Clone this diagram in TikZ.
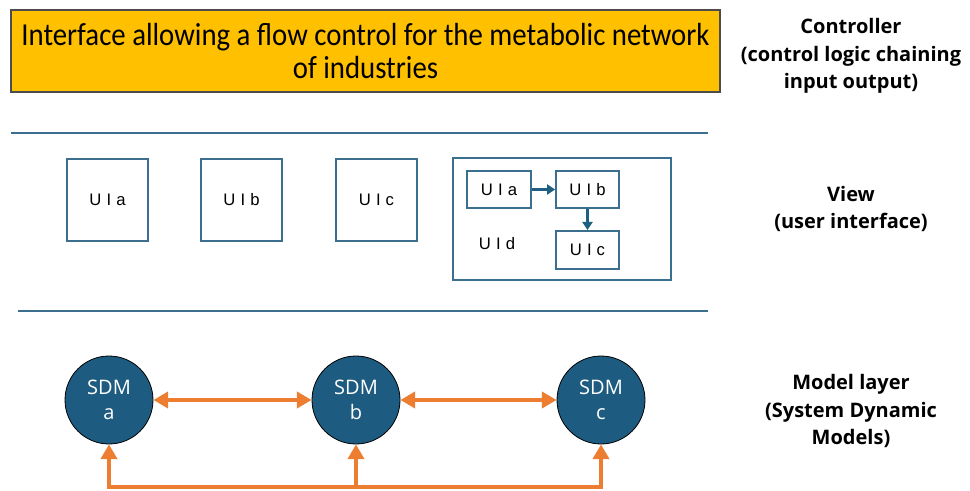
\documentclass[tikz,border=0pt]{standalone}
\usepackage{fontspec}
\setmainfont{Carlito}
\newfontfamily\topf[FakeStretch=0.9]{Carlito}
\newfontfamily\lab{Open Sans}
\newfontfamily\uif{Liberation Sans}
\newfontfamily\sdmf{Open Sans}
\usetikzlibrary{arrows.meta}
\definecolor{gold}{HTML}{FFC000}
\definecolor{uiblue}{HTML}{3B6E8F}
\definecolor{sdmblue}{HTML}{1D5C80}
\definecolor{orng}{HTML}{ED7D31}
\definecolor{arrblue}{HTML}{1F5F82}
\newcommand{\lsp}{\hspace{3.8pt}}
\tikzset{
  uibox/.style={draw=uiblue, line width=1.5pt, inner sep=0pt},
  uitext/.style={font=\uif\fontsize{12.5}{14}\selectfont},
  sdm/.style={circle, draw=black, line width=0.6pt, fill=sdmblue, text=white, minimum width=66pt, inner sep=0pt, align=center, font=\sdmf\fontsize{15}{18.5}\selectfont},
  sidelabel/.style={align=center, font=\lab\bfseries\fontsize{15}{20.6}\selectfont},
  orarrow/.style={draw=orng, line width=3.6pt, -{Triangle[length=11pt,width=12pt]}},
  orboth/.style={draw=orng, line width=3.6pt, {Triangle[length=11pt,width=12pt]}-{Triangle[length=11pt,width=12pt]}},
  blarrow/.style={draw=arrblue, line width=2.2pt, -{Triangle[length=6pt,width=7.5pt]}},
  sepline/.style={draw=uiblue, line width=1.2pt}
}
\begin{document}
\begin{tikzpicture}[x=0.75pt,y=-0.75pt]
\useasboundingbox (0,0) rectangle (970,491);
% controller
\node[draw=black!70, line width=0.8pt, fill=gold, minimum width=531.75pt, minimum height=61.5pt, inner sep=0pt, align=center, font=\topf\fontsize{24}{24.75}\selectfont] (ctrl) at (365.5,51) {Interface allowing a flow control for the metabolic network\\of industries};
\node[sidelabel] (ctrllab) at (851,56) {Controller\\(control logic chaining\\input output)};
% separators
\coordinate (l1a) at (11,133); \coordinate (l1b) at (708,133);
\coordinate (l2a) at (18,311); \coordinate (l2b) at (708,311);
\draw[sepline] (l1a) -- (l1b);
\draw[sepline] (l2a) -- (l2b);
% view
\node[uibox, minimum width=61pt, minimum height=62pt, uitext] (uia) at (107.5,200) {U\lsp I\lsp a};
\node[uibox, minimum width=61pt, minimum height=62pt, uitext] (uib) at (241.5,200) {U\lsp I\lsp b};
\node[uibox, minimum width=61pt, minimum height=62pt, uitext] (uic) at (376.5,200) {U\lsp I\lsp c};
\node[uibox, minimum width=163.5pt, minimum height=91.5pt] (uid) at (562,219) {};
\node[uibox, minimum width=48pt, minimum height=28pt, uitext] (sa) at (499,189.5) {U\lsp I\lsp a};
\node[uibox, minimum width=47pt, minimum height=28pt, uitext] (sb) at (587.5,189.5) {U\lsp I\lsp b};
\node[uibox, minimum width=47pt, minimum height=28.5pt, uitext] (sc) at (587.5,250) {U\lsp I\lsp c};
\node[uitext] (uidlab) at (497,244) {U\lsp I\lsp d};
\draw[blarrow] (sa) -- (sb);
\draw[blarrow] (sb) -- (sc);
\node[sidelabel] (viewlab) at (851,209) {View\\(user interface)};
% model
\node[sdm] (a) at (109,400) {SDM\\a};
\node[sdm] (b) at (356,400) {SDM\\b};
\node[sdm] (c) at (601,400) {SDM\\c};
\draw[orboth] (a) -- (b);
\draw[orboth] (b) -- (c);
\coordinate (ba) at (109,487);
\coordinate (bb) at (356,487);
\coordinate (bc) at (601,487);
\draw[draw=orng, line width=3.6pt, line cap=rect] (ba) -- (bc);
\draw[orarrow] (ba) -- (a);
\draw[orarrow] (bb) -- (b);
\draw[orarrow] (bc) -- (c);
\node[sidelabel] (modlab) at (851,411) {Model layer\\(System Dynamic\\Models)};
\end{tikzpicture}
\end{document}
